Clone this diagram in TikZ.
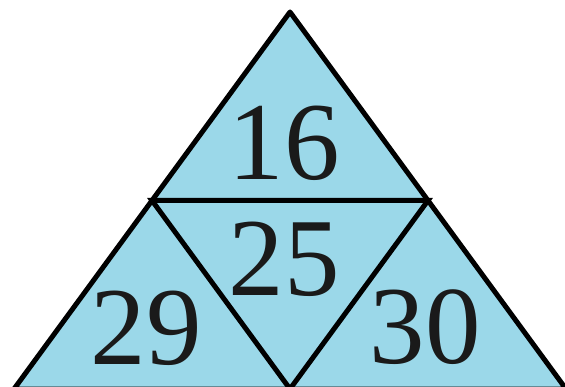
\documentclass[tikz,border=0pt]{standalone}
\usepackage{fontspec}
\setmainfont{Liberation Serif}
\definecolor{triblue}{RGB}{155,216,233}
\definecolor{numblack}{RGB}{26,26,26}
\tikzset{
  tri/.style={fill=triblue,draw=black,line width=5pt,line join=round},
  inner/.style={draw=black,line width=5pt,line cap=round},
  num/.style={inner sep=0pt,text=numblack,font=\fontsize{111}{111}\selectfont}
}
\begin{document}
\begin{tikzpicture}[x=1pt,y=-1pt]
\useasboundingbox (0,0) rectangle (565,387);
\clip (0,0) rectangle (565,387);
\coordinate (A) at (290,12);
\coordinate (B) at (14,389);
\coordinate (C) at (566,389);
\coordinate (L) at (152,200.5);
\coordinate (R) at (428,200.5);
\coordinate (M) at (290,389);
\draw[tri] (A) -- (B) -- (C) -- cycle;
\draw[inner] (L) -- (R) -- (M) -- cycle;
\node[num] (n16) at (284,143) {16};
\node[num] (n25) at (284,259) {25};
\node[num] (n29) at (146,328) {29};
\node[num] (n30) at (425,327) {30};
\end{tikzpicture}
\end{document}
